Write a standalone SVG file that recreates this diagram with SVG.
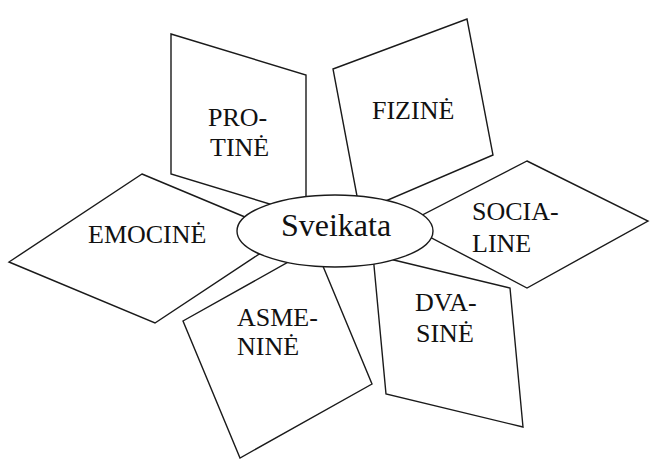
<svg xmlns="http://www.w3.org/2000/svg" width="650" height="459" viewBox="0 0 650 459">
  <style>
    .petal { fill: #ffffff; stroke: #1a1a1a; stroke-width: 1.4; stroke-linejoin: miter; }
    .hub { fill: #ffffff; stroke: #1a1a1a; stroke-width: 1.4; }
    .lbl { font-family: "Liberation Serif", "Times New Roman", serif; font-size: 26px; fill: #111111; }
    .hub-lbl { font-family: "Liberation Serif", "Times New Roman", serif; font-size: 32px; fill: #111111; }
  </style>
  <rect width="650" height="459" fill="#ffffff"/>

  <!-- petals: shapes radiating from the central ellipse -->
  <g id="connectors"></g>

  <g id="node-protine">
    <polygon class="petal" points="171,34 306,75 306,215 171,174"/>
    <text class="lbl" x="208" y="126">PRO-</text>
    <text class="lbl" x="210" y="156">TINĖ</text>
  </g>

  <g id="node-fizine">
    <polygon class="petal" points="333,69 467,19 493,155 360,212"/>
    <text class="lbl" x="372" y="119">FIZINĖ</text>
  </g>

  <g id="node-emocine">
    <polygon class="petal" points="142,174 288,235 155,323 9,262"/>
    <text class="lbl" x="88" y="243">EMOCINĖ</text>
  </g>

  <g id="node-sociale">
    <polygon class="petal" points="527,161 648,221 527,288 405,224"/>
    <text class="lbl" x="472" y="220">SOCIA-</text>
    <text class="lbl" x="472" y="252">LINE</text>
  </g>

  <g id="node-asmenine">
    <polygon class="petal" points="315,247 372,384 240,458 183,321"/>
    <text class="lbl" x="237" y="326">ASME-</text>
    <text class="lbl" x="237" y="355">NINĖ</text>
  </g>

  <g id="node-dvasine">
    <polygon class="petal" points="373,255 510,288 523,427 386,394"/>
    <text class="lbl" x="415" y="311">DVA-</text>
    <text class="lbl" x="416" y="342">SINĖ</text>
  </g>

  <!-- central hub -->
  <g id="node-sveikata">
    <ellipse class="hub" cx="335" cy="231" rx="98" ry="36"/>
    <text class="hub-lbl" x="336" y="236" text-anchor="middle">Sveikata</text>
  </g>
</svg>
